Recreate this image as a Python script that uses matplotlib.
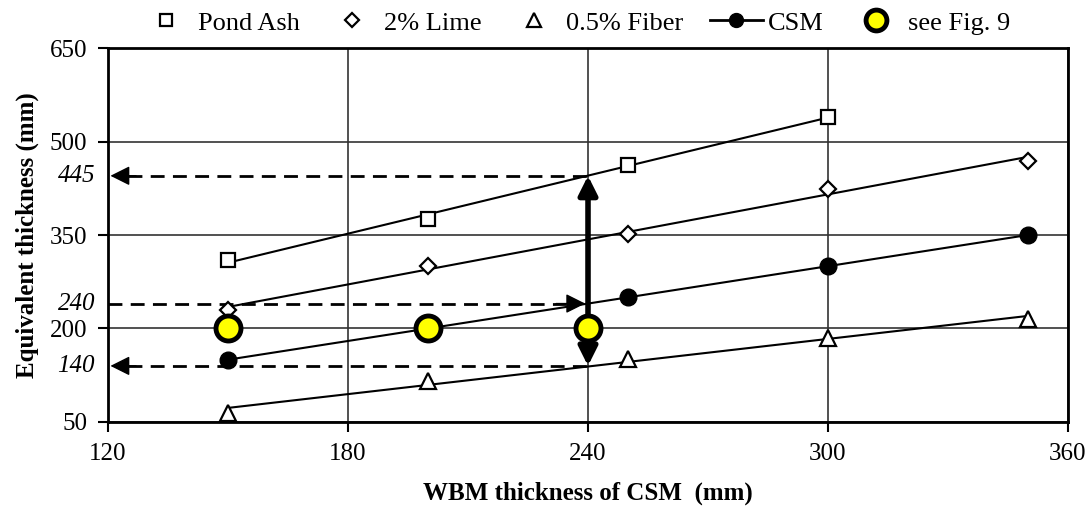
import matplotlib
matplotlib.use("Agg")
import matplotlib.pyplot as plt
from matplotlib.lines import Line2D
import numpy as np

plt.rcParams['font.family'] = ['Liberation Serif', 'DejaVu Serif']

# ---- data ----
pond_x = [150, 200, 250, 300]
pond_y = [310, 376, 462, 540]
lime_x = [150, 200, 250, 300, 350]
lime_y = [230, 300, 352, 424, 469]
fiber_x = [150, 200, 250, 300, 350]
fiber_y = [65, 116, 151, 185, 215]
csm_x = [150, 200, 250, 300, 350]
csm_y = [150, 200, 250, 300, 350]
fig9_x = [150, 200, 240]
fig9_y = [200, 200, 200]

x_ticks = [120, 180, 240, 300, 360]
y_ticks = [50, 200, 350, 500, 650]
italic_ticks = [140, 240, 445]
design_x = 240

fig = plt.figure(figsize=(10.89, 5.08), dpi=100)
ax = fig.add_axes([0.0992, 0.1693, 0.8815, 0.7362])
ax.set_xlim(120, 360)
ax.set_ylim(50, 650)
ax.set_xticks(x_ticks)
ax.set_yticks(y_ticks)
ax.tick_params(axis='both', direction='out', length=7, width=1.5, labelsize=18, pad=8)
for s in ax.spines.values():
    s.set_linewidth(2)
    s.set_color('black')
ax.grid(True, color='#333333', linewidth=1.2)
ax.set_axisbelow(True)

def trend(xs, ys):
    p = np.polyfit(xs, ys, 1)
    xx = np.array([min(xs), max(xs)])
    ax.plot(xx, np.polyval(p, xx), color='black', lw=1.5, zorder=3)

for xs, ys in [(pond_x, pond_y), (lime_x, lime_y), (fiber_x, fiber_y), (csm_x, csm_y)]:
    trend(xs, ys)

mk = dict(linestyle='none', color='black', zorder=4)
ax.plot(pond_x, pond_y, marker='s', markersize=10, markerfacecolor='white', markeredgewidth=1.6, **mk)
ax.plot(lime_x, lime_y, marker='D', markersize=8.5, markerfacecolor='white', markeredgewidth=1.6, **mk)
ax.plot(fiber_x, fiber_y, marker='^', markersize=12, markerfacecolor='white', markeredgewidth=1.6, **mk)
ax.plot(csm_x, csm_y, marker='o', markersize=12, markerfacecolor='black', **mk)
ax.plot(fig9_x, fig9_y, linestyle='none', marker='o', markersize=18, markerfacecolor='#ffff00',
        markeredgecolor='black', markeredgewidth=3.5, zorder=6)

# dashed guide lines with arrow heads
y_top = italic_ticks[2]
y_bot = italic_ticks[0]
y_mid = italic_ticks[1]
dash = dict(color='black', lw=2, linestyle=(0, (5, 3)), zorder=2)
ax.plot([125, design_x], [y_top, y_top], **dash)
ax.plot([125, design_x], [y_bot, y_bot], **dash)
ax.plot([120, 235], [y_mid, y_mid], **dash)
head = dict(arrowstyle='-|>', color='black', lw=1, mutation_scale=30, shrinkA=0, shrinkB=0)
ax.annotate('', xy=(120.6, y_top), xytext=(127, y_top), arrowprops=head, zorder=5)
ax.annotate('', xy=(120.6, y_bot), xytext=(127, y_bot), arrowprops=head, zorder=5)
ax.annotate('', xy=(239.3, y_mid), xytext=(232, y_mid), arrowprops=head, zorder=5)
ax.annotate('', xy=(design_x, y_top), xytext=(design_x, y_bot),
            arrowprops=dict(arrowstyle='<|-|>', color='black', lw=4, mutation_scale=28,
                            shrinkA=0, shrinkB=0), zorder=5)

# italic extra tick labels
for v in italic_ticks:
    ax.text(-0.0135, v, str(v), transform=ax.get_yaxis_transform(), ha='right', va='center',
            fontsize=18, fontstyle='italic')

ax.set_xlabel('WBM thickness of CSM  (mm)', fontsize=18, fontweight='bold', labelpad=12)
ax.set_ylabel('Equivalent thickness (mm)', fontsize=18, fontweight='bold', labelpad=8)

handles = [
    Line2D([], [], linestyle='none', marker='s', markersize=9, markerfacecolor='white', color='black', markeredgewidth=1.6),
    Line2D([], [], linestyle='none', marker='D', markersize=7.5, markerfacecolor='white', color='black', markeredgewidth=1.6),
    Line2D([], [], linestyle='none', marker='^', markersize=10, markerfacecolor='white', color='black', markeredgewidth=1.6),
    Line2D([], [], color='black', lw=2, marker='o', markersize=10, markerfacecolor='black'),
    Line2D([], [], linestyle='none', marker='o', markersize=15, markerfacecolor='#ffff00', markeredgecolor='black', markeredgewidth=3.5),
]
labels = ['Pond Ash', '2% Lime', '0.5% Fiber', 'CSM', 'see Fig. 9']
fig.legend(handles, labels, loc='center', bbox_to_anchor=(0.528, 0.955), ncol=5, frameon=False,
           fontsize=19, handlelength=2.0, handletextpad=0.2, columnspacing=1.0, borderaxespad=0)

fig.savefig('out.png', dpi=100)
